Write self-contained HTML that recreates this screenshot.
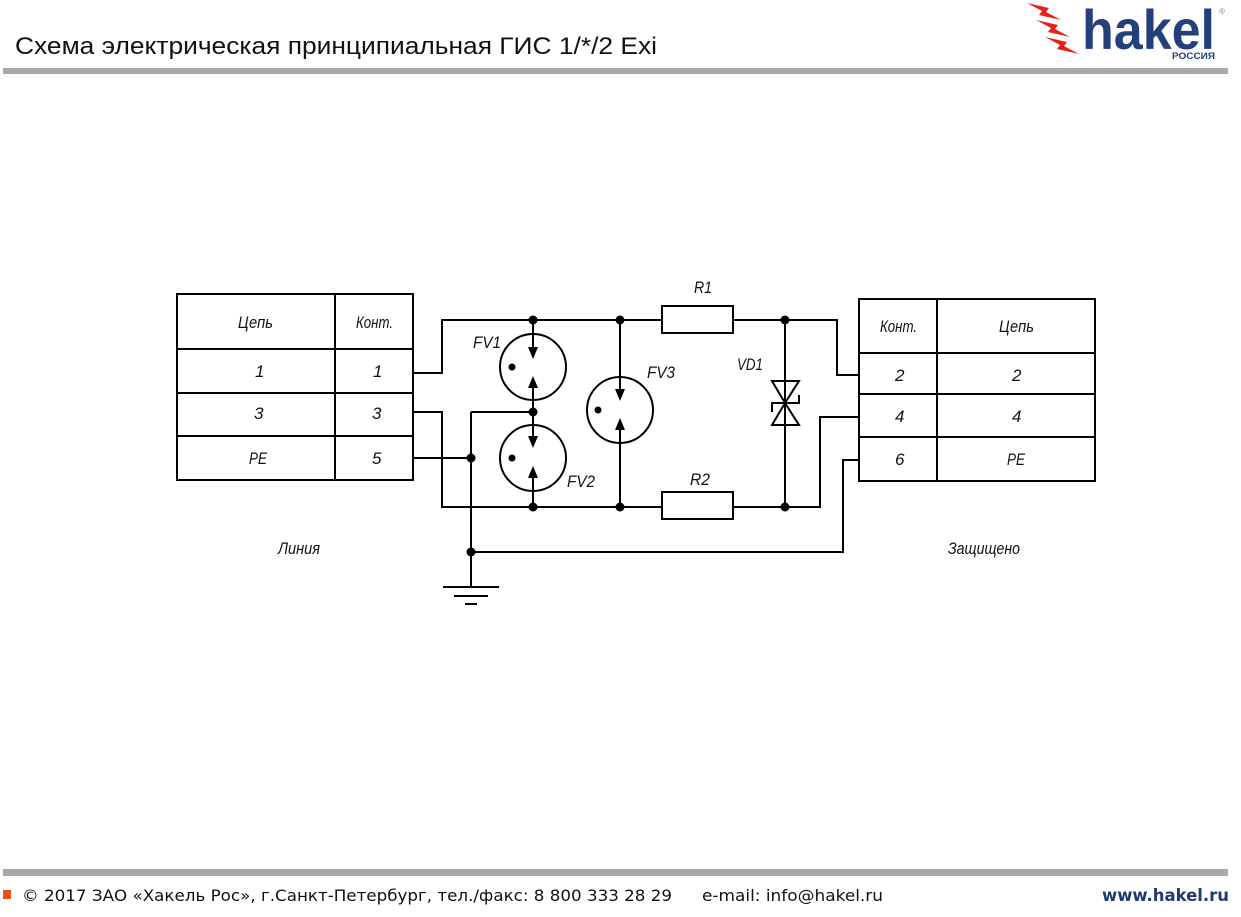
<!DOCTYPE html>
<html><head><meta charset="utf-8"><style>
html,body{margin:0;padding:0;background:#fff;}
svg{display:block;}
.t{font-family:"Liberation Sans Narrow","Liberation Sans","DejaVu Sans",sans-serif;font-style:italic;font-size:17px;fill:#111;}
</style></head><body>
<svg width="1241" height="917" viewBox="0 0 1241 917" xmlns="http://www.w3.org/2000/svg">
<!-- header -->
<text x="15" y="54" font-family="'Liberation Sans Narrow','Liberation Sans',sans-serif" font-size="24" fill="#111" textLength="642" lengthAdjust="spacingAndGlyphs">Схема электрическая принципиальная ГИС 1/*/2 Exi</text>
<rect x="3" y="68" width="1225" height="6" fill="#a9a9a9"/>
<!-- logo -->
<g fill="#e2231a">
<polygon points="1027,3 1049,8 1046,12 1061,20 1039,15 1042,11"/>
<polygon points="1036,20 1058,25 1055,29 1070,37 1048,32 1051,28"/>
<polygon points="1045,37 1067,42 1064,46 1079,54 1057,49 1060,45"/>
</g>
<text x="1082" y="49" font-family="'Liberation Sans','DejaVu Sans',sans-serif" font-weight="bold" font-size="56" fill="#23407a" textLength="133" lengthAdjust="spacingAndGlyphs">hakel</text>
<text x="1172" y="59" font-family="'Liberation Sans',sans-serif" font-weight="bold" font-size="9" fill="#23407a" textLength="43" lengthAdjust="spacingAndGlyphs">РОССИЯ</text>
<text x="1219" y="14" font-family="'Liberation Sans',sans-serif" font-size="8" fill="#888">®</text>

<!-- tables -->
<g fill="none" stroke="#000" stroke-width="2">
<rect x="177" y="294" width="236" height="186"/>
<line x1="335" y1="294" x2="335" y2="480"/>
<line x1="177" y1="349" x2="413" y2="349"/>
<line x1="177" y1="393" x2="413" y2="393"/>
<line x1="177" y1="436" x2="413" y2="436"/>
<rect x="859" y="299" width="236" height="182"/>
<line x1="937" y1="299" x2="937" y2="481"/>
<line x1="859" y1="353" x2="1095" y2="353"/>
<line x1="859" y1="394" x2="1095" y2="394"/>
<line x1="859" y1="437" x2="1095" y2="437"/>

<!-- wires -->
<path d="M413,373 H442 V320 H662"/>
<rect x="662" y="306" width="71" height="27"/>
<path d="M733,320 H837 V375 H859"/>
<path d="M413,412 H442 V507 H662"/>
<rect x="662" y="492" width="71" height="27"/>
<path d="M733,507 H820 V417 H859"/>
<path d="M413,458 H471"/>
<path d="M471,412 V587"/>
<path d="M471,412 H533"/>
<path d="M471,552 H843 V460 H859"/>
<!-- ground -->
<path d="M443,587 H499 M454,596 H488 M465,604 H477"/>
<!-- FV1 / FV2 column -->
<path d="M533,320 V350 M533,412 V385 M533,412 V439 M533,507 V475"/>
<circle cx="533" cy="367" r="33"/>
<circle cx="533" cy="458" r="33"/>
<!-- FV3 -->
<path d="M620,320 V392 M620,507 V427"/>
<circle cx="620" cy="410" r="33"/>
<!-- VD1 -->
<path d="M785,320 V507"/>
<path d="M772,381 H799 L785,403 Z M772,425 H799 L785,403 Z"/>
<path d="M772,412 V403 H799 V395"/>
</g>
<!-- arrowheads -->
<g fill="#000">
<polygon points="528,347 538,347 533,359"/>
<polygon points="528,388 538,388 533,376"/>
<polygon points="528,436 538,436 533,448"/>
<polygon points="528,478 538,478 533,466"/>
<polygon points="615,389 625,389 620,401"/>
<polygon points="615,430 625,430 620,418"/>
<circle cx="512" cy="367" r="3.5"/>
<circle cx="512" cy="458" r="3.5"/>
<circle cx="598" cy="410" r="3.5"/>
<circle cx="533" cy="320" r="4.5"/>
<circle cx="620" cy="320" r="4.5"/>
<circle cx="785" cy="320" r="4.5"/>
<circle cx="533" cy="412" r="4.5"/>
<circle cx="471" cy="458" r="4.5"/>
<circle cx="533" cy="507" r="4.5"/>
<circle cx="620" cy="507" r="4.5"/>
<circle cx="785" cy="507" r="4.5"/>
<circle cx="471" cy="552" r="4.5"/>
</g>

<!-- labels -->
<g class="t">
<text x="238" y="328" textLength="35" lengthAdjust="spacingAndGlyphs">Цепь</text>
<text x="356" y="328" textLength="37" lengthAdjust="spacingAndGlyphs">Конт.</text>
<text x="255" y="377">1</text>
<text x="373" y="377">1</text>
<text x="254" y="419">3</text>
<text x="372" y="419">3</text>
<text x="249" y="464" textLength="18" lengthAdjust="spacingAndGlyphs">PE</text>
<text x="372" y="464">5</text>
<text x="880" y="332" textLength="37" lengthAdjust="spacingAndGlyphs">Конт.</text>
<text x="999" y="332" textLength="35" lengthAdjust="spacingAndGlyphs">Цепь</text>
<text x="895" y="381">2</text>
<text x="1012" y="381">2</text>
<text x="895" y="422">4</text>
<text x="1012" y="422">4</text>
<text x="895" y="465">6</text>
<text x="1007" y="465" textLength="18" lengthAdjust="spacingAndGlyphs">PE</text>
<text x="473" y="348" textLength="28" lengthAdjust="spacingAndGlyphs">FV1</text>
<text x="567" y="487" textLength="28" lengthAdjust="spacingAndGlyphs">FV2</text>
<text x="647" y="378" textLength="28" lengthAdjust="spacingAndGlyphs">FV3</text>
<text x="694" y="293" textLength="18" lengthAdjust="spacingAndGlyphs">R1</text>
<text x="690" y="485" textLength="20" lengthAdjust="spacingAndGlyphs">R2</text>
<text x="737" y="370" textLength="26" lengthAdjust="spacingAndGlyphs">VD1</text>
<text x="278" y="554" textLength="42" lengthAdjust="spacingAndGlyphs">Линия</text>
<text x="948" y="554" textLength="72" lengthAdjust="spacingAndGlyphs">Защищено</text>
</g>

<!-- footer -->
<rect x="3" y="869" width="1225" height="7" fill="#a9a9a9"/>
<rect x="3" y="890" width="8" height="9" fill="#e8501e"/>
<text x="22" y="901" font-family="'DejaVu Sans','Liberation Sans',sans-serif" font-size="16" fill="#111" textLength="650" lengthAdjust="spacingAndGlyphs">© 2017 ЗАО «Хакель Рос», г.Санкт-Петербург, тел./факс: 8 800 333 28 29</text>
<text x="702" y="901" font-family="'DejaVu Sans','Liberation Sans',sans-serif" font-size="16" fill="#111" textLength="181" lengthAdjust="spacingAndGlyphs">e-mail: info@hakel.ru</text>
<text x="1102" y="901" font-family="'DejaVu Sans','Liberation Sans',sans-serif" font-size="17" font-weight="bold" fill="#1f3a6e" textLength="127" lengthAdjust="spacingAndGlyphs">www.hakel.ru</text>
</svg>
</body></html>
